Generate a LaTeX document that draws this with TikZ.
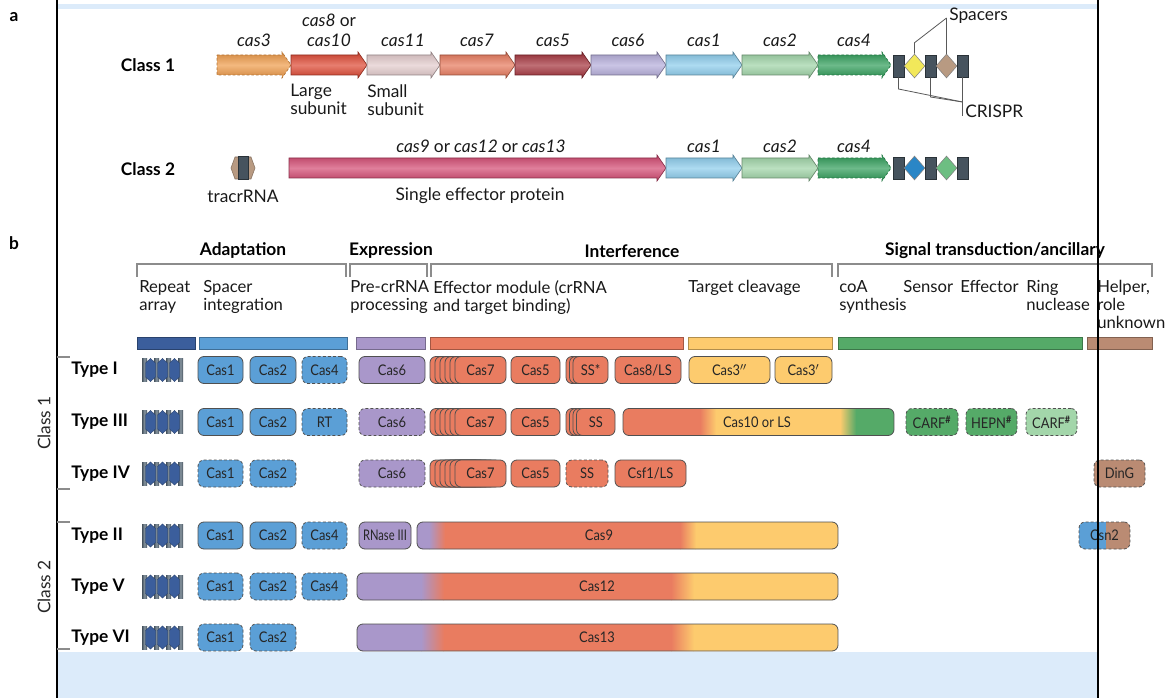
\documentclass[tikz,border=0pt]{standalone}
\usepackage{fontspec}
\setmainfont{Lato}
\newfontfamily\condfont[FakeStretch=0.88]{Lato}
\newfontfamily\narrowfont[FakeStretch=0.76]{Lato}
\usetikzlibrary{calc,shapes.geometric}
\definecolor{bblue}{HTML}{5B9FD6}
\definecolor{dblue}{HTML}{3B5E9C}
\definecolor{lav}{HTML}{A997CA}
\definecolor{salm}{HTML}{E97C60}
\definecolor{yel}{HTML}{FDCB6E}
\definecolor{grn}{HTML}{55AA68}
\definecolor{lgrn}{HTML}{A3D6AA}
\definecolor{brn}{HTML}{BA8B73}
\definecolor{edge}{HTML}{505050}
\definecolor{band}{HTML}{DCEBFA}
\definecolor{brk}{HTML}{8C8C8C}
\definecolor{slate}{HTML}{46535E}
\definecolor{slatel}{HTML}{8795A0}
\definecolor{aorange}{HTML}{EE9A48}
\definecolor{ared}{HTML}{DD4631}
\definecolor{apink}{HTML}{E2CACB}
\definecolor{asalm}{HTML}{E6775A}
\definecolor{adred}{HTML}{A3313A}
\definecolor{alav}{HTML}{B3ABD9}
\definecolor{ablue}{HTML}{8ACBEB}
\definecolor{agreen}{HTML}{9DD3A5}
\definecolor{adgreen}{HTML}{2E9C58}
\definecolor{amag}{HTML}{D24870}
\definecolor{ayel}{HTML}{F2E85A}
\definecolor{atan}{HTML}{B89A82}
\definecolor{adiab}{HTML}{2A86C6}
\definecolor{adiag}{HTML}{6DBE82}
\tikzset{
 ln/.style={draw=black!65, line width=0.6pt},
 brkline/.style={draw=brk, line width=0.9pt},
 txt/.style={font=\fontsize{13}{13.5}\selectfont, inner sep=0pt, text=black!90},
 glab/.style={font=\itshape\fontsize{13}{13.5}\selectfont, inner sep=0pt, text=black!90},
 cls/.style={font=\bfseries\fontsize{13}{14}\selectfont, inner sep=0pt},
 hdr/.style={font=\bfseries\fontsize{13}{14}\selectfont, inner sep=0pt},
 sub/.style={font=\fontsize{12.5}{13.5}\selectfont, align=left, anchor=north west, inner sep=0pt, text=black!90},
 rot/.style={font=\fontsize{13}{14}\selectfont, inner sep=0pt, rotate=90, text=black!85},
 pbox/.style={draw=edge, line width=0.6pt, rounded corners=4.5pt, minimum height=20.25pt, inner sep=0pt, outer sep=0pt, font=\condfont\fontsize{11}{12}\selectfont, text=black!85},
 dbox/.style={pbox, dash pattern=on 2.2pt off 1.6pt},
 boxtxt/.style={font=\condfont\fontsize{11}{12}\selectfont, inner sep=0pt, text=black!85},
 crect/.style={rectangle, draw=slate!60!black, line width=0.4pt, fill=slate, minimum width=8.25pt, minimum height=16.5pt, inner sep=0pt},
 cdia/.style={diamond, draw=black!50, line width=0.4pt, minimum width=15.75pt, minimum height=18pt, inner sep=0pt},
 gdash/.style={dash pattern=on 2pt off 1.5pt},
}
\newcommand{\gene}[5]{\draw[draw=#4!65!black, line width=0.5pt, top color=#4!88!black, bottom color=#4!88!black, middle color=#4!70!white, #5] (#1,#3-10) -- (#2-9,#3-10) -- (#2-9,#3-13) -- (#2,#3) -- (#2-9,#3+13) -- (#2-9,#3+10) -- (#1,#3+10) -- cycle;}
\newcommand{\bx}[6]{\node[#5, minimum width={((#3)-(#2))*0.75pt}] (#1) at ({((#2)+(#3))/2},#4) {#6};}
\newcommand{\rep}[1]{%
 \foreach \xx in {142,154,166,178}{\shade[left color=slate, right color=slate, middle color=slatel] (\xx,#1-11.5) rectangle (\xx+5,#1+11.5);}
 \foreach \xx in {150.5,162.5,174.5}{\fill[dblue, draw=dblue!70!black, line width=0.3pt] (\xx-5,#1-7) -- (\xx,#1-11.5) -- (\xx+5,#1-7) -- (\xx+5,#1+7) -- (\xx,#1+11.5) -- (\xx-5,#1+7) -- cycle;}
}
\newcommand{\stack}[6]{% prefix, first back left, step, count, width, y
 \foreach \k in {1,...,#4}{\bx{#1\k}{#2+(\k-1)*#3}{#2+(\k-1)*#3+#5}{#6}{pbox,fill=salm}{}}}
\begin{document}
\begin{tikzpicture}[x=0.75pt,y=-0.75pt]
\useasboundingbox (0,0) rectangle (1174,698);
\fill[band] (57,4) rectangle (1098,9);
\fill[band] (57,652) rectangle (1098,698);
\draw[line width=1.1pt] (57,0) -- (57,698);

% ---------------- part a
\node[cls] (la) at (14,17) {a};
\node[cls] (c1) at (148,65) {Class 1};
\gene{217}{291}{65}{aorange}{gdash, draw=aorange!75!black}
\gene{291}{367}{65}{ared}{}
\gene{367}{440}{65}{apink}{}
\gene{440}{515}{65}{asalm}{}
\gene{515}{591}{65}{adred}{}
\gene{591}{666}{65}{alav}{}
\gene{666}{742}{65}{ablue}{}
\gene{742}{818}{65}{agreen}{}
\gene{818}{891}{65}{adgreen}{gdash, draw=adgreen!75!black}
\node[glab] (g3) at (254,40) {cas3};
\node[glab] (g8a) at (329,20) {cas8 \textup{or}};
\node[glab] (g8b) at (329,40) {cas10};
\node[glab] (g11) at (403,40) {cas11};
\node[glab] (g7) at (477,40) {cas7};
\node[glab] (g5) at (553,40) {cas5};
\node[glab] (g6) at (628,40) {cas6};
\node[glab] (g1) at (704,40) {cas1};
\node[glab] (g2) at (780,40) {cas2};
\node[glab] (g4) at (854,40) {cas4};
\node[sub, font=\fontsize{13}{13.5}\selectfont] (lsu) at (290,84) {Large\\subunit};
\node[sub, font=\fontsize{13}{13.5}\selectfont] (ssu) at (367,84) {Small\\subunit};
\node[crect] (r11) at (898.5,66) {};
\node[cdia, fill=ayel] (d11) at (914.5,66) {};
\node[crect] (r12) at (930.5,66) {};
\node[cdia, fill=atan] (d12) at (946.5,66) {};
\node[crect] (r13) at (962.5,66) {};
\coordinate (spj) at (946.5,18);
\draw[ln] (d11.north) -- ++(0,-11) -- (spj);
\draw[ln] (d12.north) -- (spj);
\node[txt, anchor=west] (spl) at (949,16) {Spacers};
\coordinate (crj) at (962.5,102);
\draw[ln] (r11.south) -- (898.5,89) -- (crj);
\draw[ln] (r12.south) -- (930.5,97) -- (crj);
\draw[ln] (r13.south) -- (962.5,116);
\node[txt, anchor=west] (crl) at (965,111) {CRISPR};

\node[cls] (c2) at (148,169) {Class 2};
\fill[atan, draw=atan!70!black, line width=0.4pt] (231,168) -- (235,157) -- (251,157) -- (255,168) -- (251,179) -- (235,179) -- cycle;
\node[crect, minimum width=7.5pt, minimum height=17pt] (trr) at (243,168) {};
\node[txt] (trl) at (243,196) {tracrRNA};
\gene{289}{666}{168}{amag}{}
\gene{666}{742}{168}{ablue}{}
\gene{742}{818}{168}{agreen}{}
\gene{818}{891}{168}{adgreen}{gdash, draw=adgreen!75!black}
\node[glab] (g9) at (481,146) {cas9 \textup{or} cas12 \textup{or} cas13};
\node[txt] (sep) at (480,196) {Single effector protein};
\node[glab] (g1b) at (704,146) {cas1};
\node[glab] (g2b) at (780,146) {cas2};
\node[glab] (g4b) at (854,146) {cas4};
\node[crect] (r21) at (898.5,168) {};
\node[cdia, fill=adiab] (d21) at (914.5,168) {};
\node[crect] (r22) at (930.5,168) {};
\node[cdia, fill=adiag] (d22) at (946.5,168) {};
\node[crect] (r23) at (962.5,168) {};

% ---------------- part b
\node[cls] (lb) at (14,243) {b};
\node[hdr] (hA) at (243,251) {Adaptation};
\node[hdr] (hE) at (391,251) {Expression};
\node[hdr] (hI) at (632,251) {Interference};
\node[hdr] (hS) at (995,251) {Signal transduction/ancillary};
\draw[brkline] (137,277) |- (346,264) -- (346,277);
\draw[brkline] (350,277) |- (427,264) -- (427,277);
\draw[brkline] (431,277) |- (832,264) -- (832,277);
\draw[brkline] (838,277) |- (1152,264) -- (1152,277);
\node[sub] (s1) at (139,280) {Repeat\\array};
\node[sub] (s2) at (203,280) {Spacer\\integration};
\node[sub] (s3) at (350,280) {Pre-crRNA\\processing};
\node[sub] (s4) at (433,280) {Effector module (crRNA\\and target binding)};
\node[sub] (s5) at (688,280) {Target cleavage};
\node[sub] (s6) at (839,280) {coA\\synthesis};
\node[sub] (s7) at (903,280) {Sensor};
\node[sub] (s8) at (960,280) {Effector};
\node[sub] (s9) at (1026,280) {Ring\\nuclease};
\node[sub] (s10) at (1097,280) {Helper,\\role\\unknown};
\foreach \a/\b/\c in {137/195/dblue,199/347/bblue,356/425/lav,430/683/salm,688/832/yel,838/1082/grn,1087/1152/brn}
  \draw[fill=\c, draw=\c!70!black, line width=0.4pt] (\a,337) rectangle (\b,349);

\draw[brkline] (57,357) -- (70,357);
\draw[brkline] (57,489) -- (70,489);
\draw[brkline] (57,522) -- (70,522);
\draw[brkline] (57,649) -- (70,649);
\node[rot] (cl1) at (44,423) {Class 1};
\node[rot] (cl2) at (44,587) {Class 2};

% Type I
\node[cls, anchor=west] (ty1) at (71,370) {Type I};
\rep{370}
\bx{t1a}{198}{243}{370}{pbox,fill=bblue}{Cas1}
\bx{t1b}{250}{296}{370}{pbox,fill=bblue}{Cas2}
\bx{t1c}{302}{347}{370}{dbox,fill=bblue}{Cas4}
\bx{t1d}{359}{425}{370}{pbox,fill=lav}{Cas6}
\stack{t1s}{430}{5}{5}{51}{370}
\bx{t1e}{455}{506}{370}{pbox,fill=salm}{Cas7}
\bx{t1f}{511}{560}{370}{pbox,fill=salm}{Cas5}
\stack{t1q}{566}{3.5}{2}{35}{370}
\bx{t1g}{573}{608}{370}{pbox,fill=salm}{SS*}
\bx{t1h}{615}{681}{370}{pbox,fill=salm}{Cas8/LS}
\bx{t1i}{689}{770}{370}{pbox,fill=yel}{Cas3${}''$}
\bx{t1j}{775}{832}{370}{pbox,fill=yel}{Cas3${}'$}

% Type III
\node[cls, anchor=west] (ty3) at (71,422) {Type III};
\rep{422}
\bx{t3a}{198}{243}{422}{pbox,fill=bblue}{Cas1}
\bx{t3b}{250}{296}{422}{pbox,fill=bblue}{Cas2}
\bx{t3c}{302}{347}{422}{dbox,fill=bblue}{RT}
\bx{t3d}{359}{425}{422}{dbox,fill=lav}{Cas6}
\stack{t3s}{430}{5}{5}{51}{422}
\bx{t3e}{455}{506}{422}{pbox,fill=salm}{Cas7}
\bx{t3f}{511}{560}{422}{pbox,fill=salm}{Cas5}
\stack{t3q}{566}{3.5}{3}{38.5}{422}
\bx{t3g}{576.5}{615}{422}{pbox,fill=salm}{SS}
\begin{scope}
\clip[rounded corners=4.5pt] (623,408.5) rectangle (894,435.5);
\fill[salm] (622,407) rectangle (701,437);
\fill[yel] (715,407) rectangle (841,437);
\fill[grn] (855,407) rectangle (895,437);
\shade[left color=salm, right color=yel] (700,407) rectangle (716,437);
\shade[left color=yel, right color=grn] (840,407) rectangle (856,437);
\end{scope}
\bx{t3h}{623}{894}{422}{pbox}{}
\node[boxtxt] (t3hl) at (757,422) {Cas10 or LS};
\bx{t3i}{906}{958}{422}{dbox,fill=grn}{CARF\textsuperscript{\textbf{\#}}}
\bx{t3j}{966}{1017}{422}{dbox,fill=grn}{HEPN\textsuperscript{\textbf{\#}}}
\bx{t3k}{1026}{1077}{422}{dbox,fill=lgrn}{CARF\textsuperscript{\textbf{\#}}}

% Type IV
\node[cls, anchor=west] (ty4) at (71,473.5) {Type IV};
\rep{473.5}
\bx{t4a}{198}{243}{473.5}{dbox,fill=bblue}{Cas1}
\bx{t4b}{250}{296}{473.5}{dbox,fill=bblue}{Cas2}
\bx{t4d}{359}{425}{473.5}{dbox,fill=lav}{Cas6}
\stack{t4s}{430}{5}{5}{51}{473.5}
\bx{t4e}{455}{506}{473.5}{pbox,fill=salm}{Cas7}
\bx{t4f}{511}{560}{473.5}{pbox,fill=salm}{Cas5}
\bx{t4g}{566}{608}{473.5}{dbox,fill=salm}{SS}
\bx{t4h}{615}{686}{473.5}{pbox,fill=salm}{Csf1/LS}
\bx{t4i}{1094}{1145}{473.5}{dbox,fill=brn}{DinG}

% Type II
\node[cls, anchor=west] (ty2) at (71,535.5) {Type II};
\rep{535.5}
\bx{t2a}{198}{243}{535.5}{pbox,fill=bblue}{Cas1}
\bx{t2b}{250}{296}{535.5}{pbox,fill=bblue}{Cas2}
\bx{t2c}{302}{347}{535.5}{dbox,fill=bblue}{Cas4}
\bx{t2d}{359}{411}{535.5}{pbox,fill=lav}{\narrowfont RNase III}
\begin{scope}
\clip[rounded corners=4.5pt] (417,522) rectangle (838,549);
\fill[lav] (416,521) rectangle (430,550);
\fill[salm] (444,521) rectangle (681,550);
\fill[yel] (695,521) rectangle (839,550);
\shade[left color=lav, right color=salm] (429,521) rectangle (445,550);
\shade[left color=salm, right color=yel] (680,521) rectangle (696,550);
\end{scope}
\bx{t2e}{417}{838}{535.5}{pbox}{}
\node[boxtxt] (t2el) at (599,535.5) {Cas9};
\begin{scope}
\clip[rounded corners=4.5pt] (1079,522) rectangle (1130,549);
\fill[bblue] (1078,521) rectangle (1106,550);
\fill[brn] (1106,521) rectangle (1131,550);
\end{scope}
\bx{t2f}{1079}{1130}{535.5}{dbox}{Csn2}

% Type V
\node[cls, anchor=west] (ty5) at (71,586.5) {Type V};
\rep{586.5}
\bx{t5a}{198}{243}{586.5}{dbox,fill=bblue}{Cas1}
\bx{t5b}{250}{296}{586.5}{dbox,fill=bblue}{Cas2}
\bx{t5c}{302}{347}{586.5}{dbox,fill=bblue}{Cas4}
\begin{scope}
\clip[rounded corners=4.5pt] (357,573) rectangle (838,600);
\fill[lav] (356,572) rectangle (422,601);
\fill[salm] (443,572) rectangle (672,601);
\fill[yel] (693,572) rectangle (839,601);
\shade[left color=lav, right color=salm] (421,572) rectangle (444,601);
\shade[left color=salm, right color=yel] (671,572) rectangle (694,601);
\end{scope}
\bx{t5e}{357}{838}{586.5}{pbox}{}
\node[boxtxt] (t5el) at (597,586.5) {Cas12};

% Type VI
\node[cls, anchor=west] (ty6) at (71,637.5) {Type VI};
\rep{637.5}
\bx{t6a}{198}{243}{637.5}{dbox,fill=bblue}{Cas1}
\bx{t6b}{250}{296}{637.5}{dbox,fill=bblue}{Cas2}
\begin{scope}
\clip[rounded corners=4.5pt] (357,624) rectangle (838,651);
\fill[lav] (356,623) rectangle (422,652);
\fill[salm] (443,623) rectangle (672,652);
\fill[yel] (693,623) rectangle (839,652);
\shade[left color=lav, right color=salm] (421,623) rectangle (444,652);
\shade[left color=salm, right color=yel] (671,623) rectangle (694,652);
\end{scope}
\bx{t6e}{357}{838}{637.5}{pbox}{}
\node[boxtxt] (t6el) at (597,637.5) {Cas13};

\draw[line width=1.1pt] (1098,0) -- (1098,698);
\end{tikzpicture}
\end{document}
